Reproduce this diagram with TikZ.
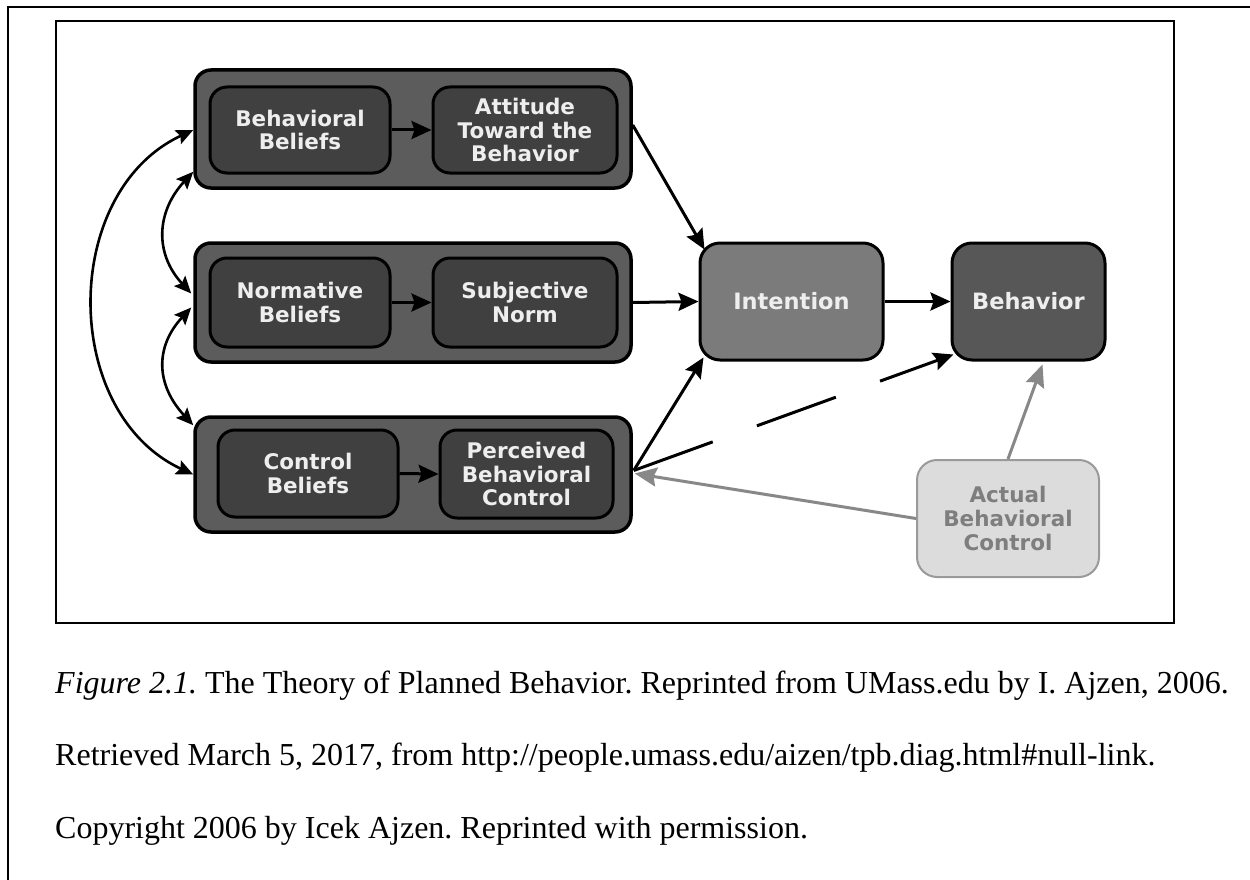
\documentclass[tikz,border=0pt]{standalone}
\usepackage{fontspec}
\setmainfont{Liberation Serif}
\newfontfamily\dfont{DejaVu Sans}
\usetikzlibrary{arrows.meta,calc}
\definecolor{grpfill}{HTML}{5C5C5C}
\definecolor{infill}{HTML}{404040}
\definecolor{intfill}{HTML}{7B7B7B}
\definecolor{behfill}{HTML}{575757}
\definecolor{txtc}{HTML}{EEEEEE}
\definecolor{actfill}{HTML}{DCDCDC}
\definecolor{actdraw}{HTML}{9A9A9A}
\definecolor{acttxt}{HTML}{7E7E7E}
\definecolor{arrgray}{HTML}{888888}
\frenchspacing
\begin{document}
\begin{tikzpicture}[x=1pt,y=-1pt,
  grp/.style={draw=black, line width=3.5pt, fill=grpfill, rounded corners=16pt, inner sep=0pt},
  inbox/.style={draw=black, line width=3pt, fill=infill, rounded corners=17pt, inner sep=0pt,
    text=txtc, align=center, font=\dfont\bfseries\fontsize{21.5}{23.5}\selectfont},
  bigbox/.style={draw=black, line width=3pt, rounded corners=20pt, inner sep=0pt,
    text=txtc, align=center, font=\dfont\bfseries\fontsize{22.5}{24}\selectfont},
  actbox/.style={draw=actdraw, line width=2pt, fill=actfill, rounded corners=20pt, inner sep=0pt,
    text=acttxt, align=center, font=\dfont\bfseries\fontsize{21.5}{24}\selectfont},
  arr/.style={line width=3pt, -{Stealth[length=20pt,width=18pt,inset=3pt]}},
  darr/.style={line width=2.6pt, {Stealth[length=17pt,width=15pt,inset=3pt]}-{Stealth[length=17pt,width=15pt,inset=3pt]}},
  garr/.style={line width=3pt, draw=arrgray, -{Stealth[length=22pt,width=19pt,inset=3pt,fill=arrgray]}},
  pageframe/.style={line width=2pt, draw=black},
  captxt/.style={anchor=base west, inner sep=0pt, font=\fontsize{32}{38}\selectfont}
]
\useasboundingbox (0,0) rectangle (1250,880);
% page frames
\draw[pageframe] (8,880) -- (8,7) -- (1250,7);
\draw[pageframe] (56,21) rectangle (1174,623);

% groups
\node[grp, minimum width=436pt, minimum height=118pt] (g1) at (413,129) {};
\node[grp, minimum width=436pt, minimum height=119pt] (g2) at (413,302.5) {};
\node[grp, minimum width=436pt, minimum height=115pt] (g3) at (413,474.5) {};

% inner boxes
\node[inbox, minimum width=180pt, minimum height=86pt] (bb) at (300,130) {Behavioral\\Beliefs};
\node[inbox, minimum width=184pt, minimum height=86pt] (att) at (525,130) {Attitude\\Toward the\\Behavior};
\node[inbox, minimum width=180pt, minimum height=89pt] (nb) at (300,302.5) {Normative\\Beliefs};
\node[inbox, minimum width=184pt, minimum height=89pt] (sn) at (525,302.5) {Subjective\\Norm};
\node[inbox, minimum width=180pt, minimum height=87pt] (cb) at (308,473.5) {Control\\Beliefs};
\node[inbox, minimum width=173pt, minimum height=88pt] (pbc) at (526.5,474) {Perceived\\Behavioral\\Control};

% right boxes
\node[bigbox, fill=intfill, minimum width=183pt, minimum height=117pt] (int) at (791.5,301.5) {Intention};
\node[bigbox, fill=behfill, minimum width=153pt, minimum height=117pt] (beh) at (1028.5,301.5) {Behavior};
\node[actbox, minimum width=182pt, minimum height=117pt] (act) at (1008,518.5) {Actual\\Behavioral\\Control};

% inner arrows
\draw[arr] (bb.east) -- (att.west);
\draw[arr] (nb.east) -- (sn.west);
\draw[arr] (cb.east) -- (pbc.west);

% to intention / behavior
\draw[arr] ($(g1.east)+(0,-4)$) -- ($(int.north west)+(6,8)$);
\draw[arr] (g2.east) -- (int.west);
\draw[arr] ($(g3.east)+(1,-4)$) -- ($(int.south west)+(5,-4)$);
\draw[arr, dash pattern=on 84pt off 47pt] ($(g3.east)+(1,-4)$) -- ($(beh.south west)+(3,-7)$);
\draw[arr] (int.east) -- (beh.west);

% actual behavioral control
\draw[garr] (act.west) -- ($(g3.east)+(2,-1)$);
\draw[garr] (act.north) -- ($(beh.south)+(14,3)$);

% left correlations
\draw[darr] ($(g1.west)+(0,1)$) .. controls +(-133,62) and +(-133,-62) .. (g3.west);
\draw[darr] ($(g1.south west)+(0,-18)$) .. controls +(-37,40) and +(-37,-40) .. ($(g2.west)+(-2,-9)$);
\draw[darr] ($(g2.west)+(-2,5)$) .. controls +(-37,40) and +(-37,-40) .. ($(g3.north west)+(0,10)$);

% caption
\node[captxt] (c1) at (55,693) {\textit{Figure 2.1.} The Theory of Planned Behavior. Reprinted from UMass.edu by I. Ajzen, 2006.};
\node[captxt] (c2) at (55,765) {Retrieved March 5, 2017, from http://people.umass.edu/aizen/tpb.diag.html\#null-link.};
\node[captxt] (c3) at (55,838) {Copyright 2006 by Icek Ajzen. Reprinted with permission.};
\end{tikzpicture}
\end{document}
